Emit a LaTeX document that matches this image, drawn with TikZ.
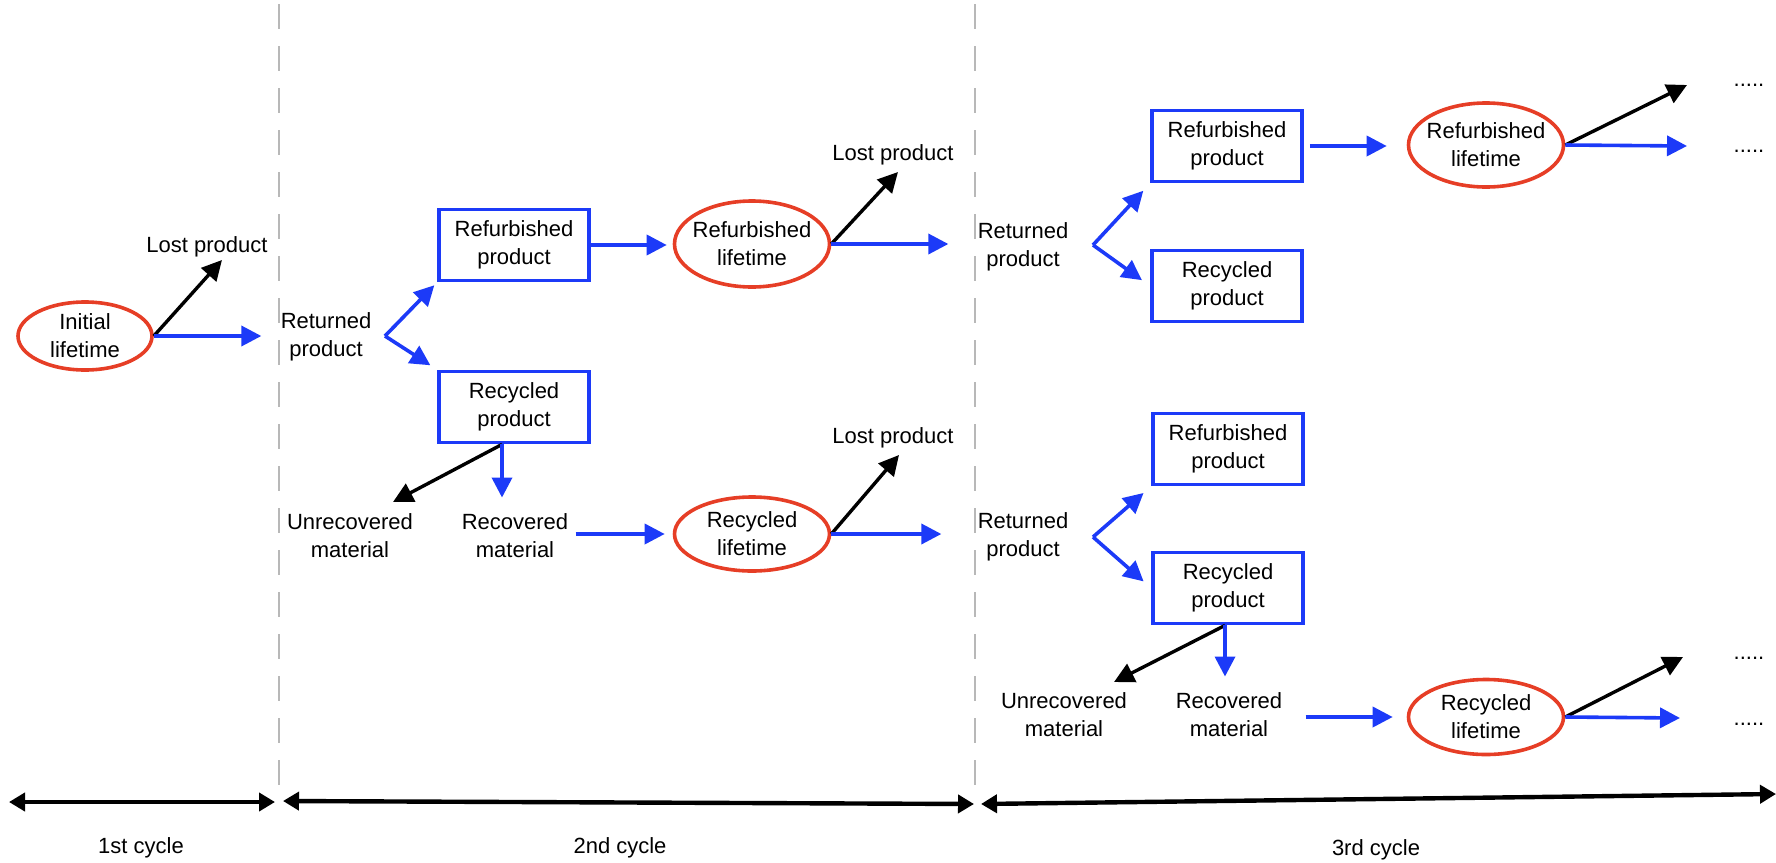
\documentclass[tikz,border=0pt]{standalone}
\usepackage{fontspec}
\setmainfont{Liberation Sans}
\usetikzlibrary{arrows.meta,shapes.geometric}
\definecolor{flowblue}{RGB}{28,58,248}
\definecolor{lifered}{RGB}{230,62,38}
\begin{document}
\begin{tikzpicture}
  [x=0.5pt,y=-0.5pt,
   font=\fontsize{11}{14}\selectfont,
   life/.style={draw=lifered,line width=1.8pt,ellipse,minimum width=77.5pt,minimum height=42pt,inner sep=-3pt,align=center},
   prod/.style={draw=flowblue,line width=1.9pt,rectangle,minimum width=75pt,minimum height=35.5pt,inner sep=0pt,align=center},
   txt/.style={inner sep=2pt,align=center},
   flow/.style={-{Triangle[length=10pt,width=10pt]},line width=1.8pt,flowblue},
   loss/.style={-{Triangle[length=10pt,width=10pt]},line width=1.7pt,black},
   span/.style={{Triangle[length=8pt,width=9pt]}-{Triangle[length=8pt,width=9pt]},line width=2.2pt},
   cut/.style={black!28,line width=1pt,dash pattern=on 12.5pt off 8.5pt}]

  \useasboundingbox (0,0) rectangle (1776,862);

  \draw[cut] (279,4) -- (279,795);
  \draw[cut] (975,4) -- (975,795);

  % 1st cycle
  \node[life,minimum width=67pt,minimum height=34pt] (init) at (85,336) {Initial\\lifetime};
  \node[txt] (lost1) at (207,247) {Lost product};
  \coordinate (t1) at (222,260);

  % 2nd cycle
  \node[txt] (ret2) at (326,337) {Returned\\product};
  \coordinate (f2) at (385,336);
  \node[prod] (refb2) at (514,245) {Refurbished\\product};
  \node[prod] (recb2) at (514,407) {Recycled\\product};
  \node[life,minimum height=43pt] (rl2) at (752,244) {Refurbished\\lifetime};
  \node[txt] (lost2a) at (893,155) {Lost product};
  \coordinate (t2a) at (898,172);
  \coordinate (s2) at ([xshift=-6pt]recb2.south);
  \node[txt] (um2) at (350,536) {Unrecovered\\material};
  \coordinate (t2u) at (393,502);
  \node[txt] (rm2) at (515,536) {Recovered\\material};
  \node[life,minimum height=37pt] (rcl2) at (752,534) {Recycled\\lifetime};
  \node[txt] (lost2b) at (893,438) {Lost product};
  \coordinate (t2b) at (899,455);

  % 3rd cycle
  \node[txt] (ret3a) at (1023,247) {Returned\\product};
  \coordinate (f3a) at (1093,245);
  \node[prod] (refb3a) at (1227,146) {Refurbished\\product};
  \node[prod] (recb3a) at (1227,286) {Recycled\\product};
  \node[life] (rl3a) at (1486,145) {Refurbished\\lifetime};
  \coordinate (t3a1) at (1687,85);
  \coordinate (t3a2) at (1687,146);
  \node[txt] (d3a1) at (1749,85) {.....};
  \node[txt] (d3a2) at (1749,151) {.....};

  \node[txt] (ret3b) at (1023,537) {Returned\\product};
  \coordinate (f3b) at (1093,537);
  \node[prod] (refb3b) at (1228,449) {Refurbished\\product};
  \node[prod] (recb3b) at (1228,588) {Recycled\\product};
  \coordinate (s3) at ([xshift=-1.5pt]recb3b.south);
  \node[txt] (um3) at (1064,715) {Unrecovered\\material};
  \coordinate (t3u) at (1114,682);
  \node[txt] (rm3) at (1229,715) {Recovered\\material};
  \node[life,minimum height=37.5pt] (rcl3) at (1486,717) {Recycled\\lifetime};
  \coordinate (t3b1) at (1683,657);
  \coordinate (t3b2) at (1680,718);
  \node[txt] (d3b1) at (1749,658) {.....};
  \node[txt] (d3b2) at (1749,724) {.....};

  \draw[loss] (init.east) -- (t1);
  \draw[flow,shorten >=7.5pt] (init.east) -- (init.east -| ret2.west);
  \draw[flow,shorten >=2pt] (f2) -- (refb2.south west);
  \draw[flow,shorten >=4pt] (f2) -- (recb2.north west);
  \draw[flow,shorten >=3pt] (refb2.east) -- (refb2.east -| rl2.west);
  \draw[loss] (rl2.east) -- (t2a);
  \draw[flow,shorten >=12.5pt] (rl2.east) -- (rl2.east -| ret3a.west);
  \draw[loss] (s2) -- (t2u);
  \draw[flow,shorten >=6pt] (s2) -- (s2 |- rm2.north);
  \draw[flow,shorten <=1.5pt,shorten >=4pt] (rcl2.west -| rm2.east) -- (rcl2.west);
  \draw[loss] (rcl2.east) -- (t2b);
  \draw[flow,shorten >=16pt] (rcl2.east) -- (rcl2.east -| ret3b.west);

  \draw[flow,shorten >=5pt] (f3a) -- (refb3a.south west);
  \draw[flow,shorten >=5pt] (f3a) -- (recb3a.west);
  \draw[flow,shorten <=3pt,shorten >=10pt] (refb3a.east) -- (refb3a.east -| rl3a.west);
  \draw[loss] (rl3a.east) -- (t3a1);
  \draw[flow] (rl3a.east) -- (t3a2);

  \draw[flow,shorten >=5pt] (f3b) -- (refb3b.south west);
  \draw[flow,shorten >=5pt] (f3b) -- (recb3b.west);
  \draw[loss] (s3) -- (t3u);
  \draw[flow,shorten >=6pt] (s3) -- (s3 |- rm3.north);
  \draw[flow,shorten <=9.5pt,shorten >=7pt] (rcl3.west -| rm3.east) -- (rcl3.west);
  \draw[loss] (rcl3.east) -- (t3b1);
  \draw[flow] (rcl3.east) -- (t3b2);

  % cycles
  \coordinate (c0) at (9,802);
  \coordinate (c1) at (275,802);
  \coordinate (c2) at (283,801);
  \coordinate (c3) at (974,804);
  \coordinate (c4) at (981,804);
  \coordinate (c5) at (1776,794);
  \draw[span] (c0) -- (c1);
  \draw[span] (c2) -- (c3);
  \draw[span] (c4) -- (c5);
  \node[txt] (cy1) at (141,848) {1st cycle};
  \node[txt] (cy2) at (620,848) {2nd cycle};
  \node[txt] (cy3) at (1376,850) {3rd cycle};

\end{tikzpicture}
\end{document}
